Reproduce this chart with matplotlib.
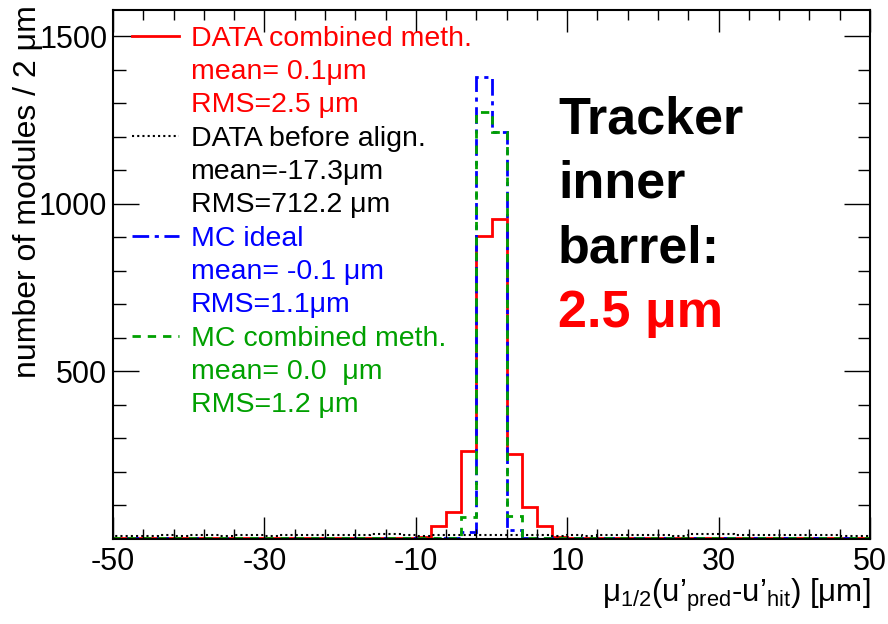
import numpy as np
import matplotlib
matplotlib.use("Agg")
import matplotlib.pyplot as plt
from matplotlib.lines import Line2D

plt.rcParams["font.family"] = ["Liberation Sans", "DejaVu Sans"]
plt.rcParams["mathtext.fontset"] = "custom"
plt.rcParams["mathtext.rm"] = "Liberation Sans"
plt.rcParams["mathtext.default"] = "regular"
plt.rcParams["axes.unicode_minus"] = False

# 2 um bins from -50 to 50
edges = np.arange(-50, 52, 2)

data_combined = [2, 1, 2, 1, 2, 1, 1, 2, 1, 2,
                 1, 2, 1, 2, 1, 2, 1, 2, 1, 2,
                 3, 38, 80, 261, 904, 953, 251, 93, 38, 3,
                 2, 1, 2, 1, 2, 1, 2, 1, 2, 1,
                 2, 1, 2, 1, 2, 1, 2, 1, 1, 2]
data_before = [7, 8, 7, 9, 8, 10, 9, 8, 10, 9,
               8, 9, 10, 9, 10, 9, 11, 14, 13, 9,
               8, 9, 9, 10, 10, 10, 10, 9, 9, 8,
               9, 8, 10, 9, 10, 9, 10, 8, 14, 13,
               12, 9, 10, 9, 10, 9, 10, 9, 8, 7]
mc_ideal = [0, 1, 0, 1, 0, 1, 0, 1, 0, 1,
            0, 1, 0, 1, 0, 1, 0, 1, 0, 1,
            0, 1, 1, 20, 1378, 1215, 25, 1, 1, 0,
            1, 0, 1, 0, 1, 0, 1, 0, 1, 0,
            1, 0, 1, 0, 1, 0, 1, 0, 1, 0]
mc_combined = [1, 1, 1, 1, 1, 1, 1, 1, 1, 1,
               1, 1, 1, 1, 1, 1, 1, 1, 1, 1,
               1, 1, 2, 63, 1274, 1215, 67, 2, 1, 1,
               1, 1, 1, 1, 1, 1, 1, 1, 1, 1,
               1, 1, 1, 1, 1, 1, 1, 1, 1, 1]

series_labels = ["DATA combined meth.", "DATA before align.", "MC ideal", "MC combined meth."]
series_stats = [["mean= 0.1μm", "RMS=2.5 μm"],
                ["mean=-17.3μm", "RMS=712.2 μm"],
                ["mean= -0.1 μm", "RMS=1.1μm"],
                ["mean= 0.0  μm", "RMS=1.2 μm"]]

red = "#ff0000"
green = "#00a000"
blue = "#0000ff"

fig = plt.figure(figsize=(8.88, 6.24), dpi=100)
ax = fig.add_axes([113 / 888, 1 - 538.5 / 624, 757 / 888, 528.5 / 624])

ax.stairs(data_combined, edges, color=red, lw=2)
ax.stairs(data_before, edges, color="black", lw=1.5, linestyle=(0, (1, 1.5)))
ax.stairs(mc_ideal, edges, color=blue, lw=2, linestyle=(0, (6, 2, 1.5, 2)))
ax.stairs(mc_combined, edges, color=green, lw=2, linestyle=(0, (3, 2.5)))

ax.set_xlim(-50, 50)
ax.set_ylim(0, 1578)
ax.set_xticks(np.arange(-50, 51, 20))
ax.set_xticks(np.arange(-50, 51, 4), minor=True)
ax.set_yticks([500, 1000, 1500])
ax.set_yticks(np.arange(100, 1578, 100), minor=True)
ax.tick_params(which="both", direction="in", top=True, right=True, labelsize=22, width=1)
ax.tick_params(axis="y", which="major", length=19, pad=4)
ax.tick_params(axis="y", which="minor", length=9)
ax.tick_params(axis="x", which="major", length=16, pad=6)
ax.tick_params(axis="x", which="minor", length=7)
for s in ax.spines.values():
    s.set_linewidth(1.5)

ax.set_ylabel("number of modules / 2 μm", fontsize=23, loc="top")
ax.yaxis.set_label_coords(-0.093, 1.01)
ax.set_xlabel("μ$_{1/2}$(u’$_{pred}$-u’$_{hit}$) [μm]", fontsize=22.5, loc="right")
ax.xaxis.set_label_coords(1.0, -0.072)

# legend: one visible handle per series, followed by its two stat lines
styles = [dict(color=red, lw=2, linestyle="-"),
          dict(color="black", lw=1.5, linestyle=(0, (1, 1.5))),
          dict(color=blue, lw=2, linestyle=(0, (6, 2, 1.5, 2))),
          dict(color=green, lw=2, linestyle=(0, (3, 2.5)))]
colors = [red, "black", blue, green]
handles, labels, text_colors = [], [], []
for name, stats, st, c in zip(series_labels, series_stats, styles, colors):
    handles.append(Line2D([], [], **st))
    labels.append(name)
    text_colors.append(c)
    for line in stats:
        handles.append(Line2D([], [], linestyle="none"))
        labels.append(line)
        text_colors.append(c)

leg = ax.legend(handles, labels, loc="upper left", bbox_to_anchor=(0.025, 0.970),
                frameon=False, fontsize=20.5, handlelength=1.65, handletextpad=0.41,
                labelspacing=0.257, borderpad=0, borderaxespad=0)
for t, c in zip(leg.get_texts(), text_colors):
    t.set_color(c)

fig.text(558 / 888, 1 - 134 / 624, "Tracker", fontsize=37.5, fontweight="bold", va="baseline")
fig.text(558 / 888, 1 - 198 / 624, "inner", fontsize=37.5, fontweight="bold", va="baseline")
fig.text(558 / 888, 1 - 262 / 624, "barrel:", fontsize=37.5, fontweight="bold", va="baseline")
fig.text(558 / 888, 1 - 327 / 624, "2.5 μm", fontsize=37.5, fontweight="bold", va="baseline", color=red)

fig.savefig("out.png", dpi=100)
